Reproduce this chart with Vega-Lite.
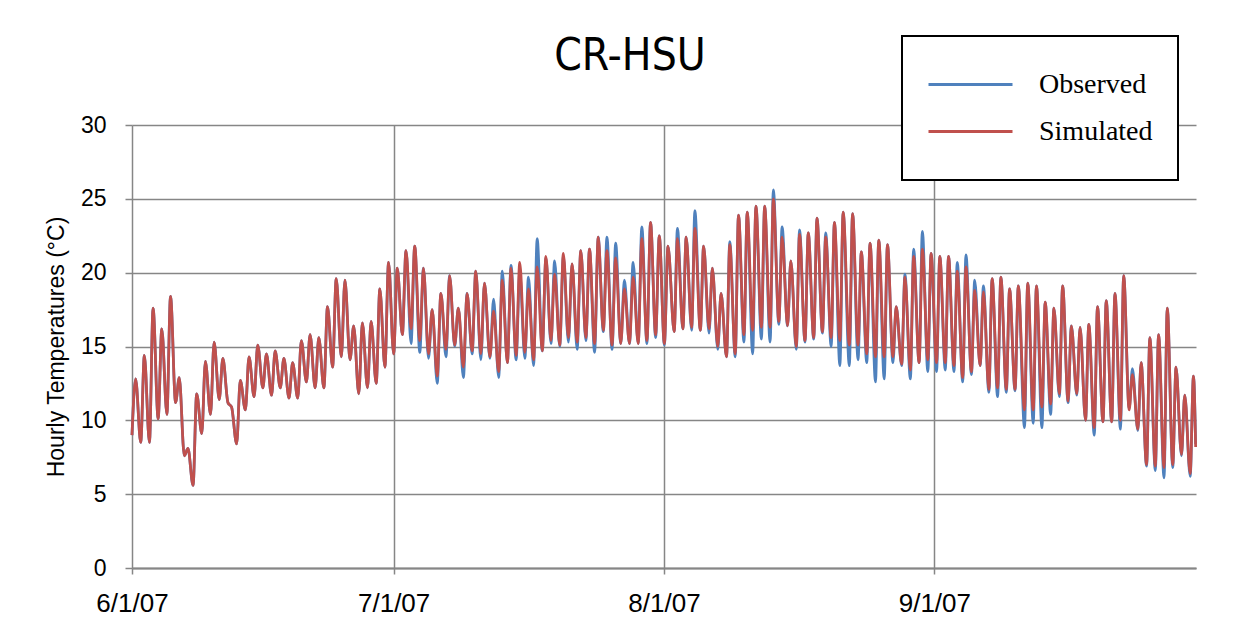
{
  "$schema": "https://vega.github.io/schema/vega-lite/v6.json",
  "width": 1064,
  "height": 443,
  "autosize": {"type": "none"},
  "padding": {"left": 132, "top": 125, "right": 57, "bottom": 66},
  "background": "white",
  "title": {"text": "CR-HSU", "font": "DejaVu Sans Condensed, Liberation Sans", "fontSize": 44, "fontWeight": "normal", "color": "#000000", "anchor": "middle", "dx": -34, "dy": 54, "offset": 10},
  "data": {"values": [
    {"t":"2007-06-01T00:00","Observed":9.0,"Simulated":9.0},{"t":"2007-06-01T10:00","Observed":12.8,"Simulated":12.8},
    {"t":"2007-06-02T00:00","Observed":8.5,"Simulated":8.5},{"t":"2007-06-02T10:00","Observed":14.4,"Simulated":14.4},
    {"t":"2007-06-03T00:00","Observed":8.5,"Simulated":8.5},{"t":"2007-06-03T10:00","Observed":17.6,"Simulated":17.6},
    {"t":"2007-06-04T00:00","Observed":10.1,"Simulated":10.1},{"t":"2007-06-04T10:00","Observed":16.2,"Simulated":16.2},
    {"t":"2007-06-05T00:00","Observed":10.4,"Simulated":10.4},{"t":"2007-06-05T10:00","Observed":18.4,"Simulated":18.4},
    {"t":"2007-06-06T00:00","Observed":11.2,"Simulated":11.2},{"t":"2007-06-06T10:00","Observed":12.9,"Simulated":12.9},
    {"t":"2007-06-07T00:00","Observed":7.6,"Simulated":7.6},{"t":"2007-06-07T10:00","Observed":8.1,"Simulated":8.1},
    {"t":"2007-06-08T00:00","Observed":5.6,"Simulated":5.6},{"t":"2007-06-08T10:00","Observed":11.8,"Simulated":11.8},
    {"t":"2007-06-09T00:00","Observed":9.1,"Simulated":9.1},{"t":"2007-06-09T10:00","Observed":14.0,"Simulated":14.0},
    {"t":"2007-06-10T00:00","Observed":10.4,"Simulated":10.4},{"t":"2007-06-10T10:00","Observed":15.3,"Simulated":15.3},
    {"t":"2007-06-11T00:00","Observed":11.4,"Simulated":11.4},{"t":"2007-06-11T10:00","Observed":14.2,"Simulated":14.2},
    {"t":"2007-06-12T00:00","Observed":11.2,"Simulated":11.2},{"t":"2007-06-12T10:00","Observed":10.9,"Simulated":10.9},
    {"t":"2007-06-13T00:00","Observed":8.4,"Simulated":8.4},{"t":"2007-06-13T10:00","Observed":12.7,"Simulated":12.7},
    {"t":"2007-06-14T00:00","Observed":10.7,"Simulated":10.7},{"t":"2007-06-14T10:00","Observed":14.3,"Simulated":14.3},
    {"t":"2007-06-15T00:00","Observed":11.6,"Simulated":11.6},{"t":"2007-06-15T10:00","Observed":15.1,"Simulated":15.1},
    {"t":"2007-06-16T00:00","Observed":12.2,"Simulated":12.2},{"t":"2007-06-16T10:00","Observed":14.5,"Simulated":14.5},
    {"t":"2007-06-17T00:00","Observed":11.7,"Simulated":11.7},{"t":"2007-06-17T10:00","Observed":14.7,"Simulated":14.7},
    {"t":"2007-06-18T00:00","Observed":12.2,"Simulated":12.2},{"t":"2007-06-18T10:00","Observed":14.2,"Simulated":14.2},
    {"t":"2007-06-19T00:00","Observed":11.5,"Simulated":11.5},{"t":"2007-06-19T10:00","Observed":13.9,"Simulated":13.9},
    {"t":"2007-06-20T00:00","Observed":11.5,"Simulated":11.5},{"t":"2007-06-20T10:00","Observed":15.4,"Simulated":15.4},
    {"t":"2007-06-21T00:00","Observed":12.6,"Simulated":12.6},{"t":"2007-06-21T10:00","Observed":15.8,"Simulated":15.8},
    {"t":"2007-06-22T00:00","Observed":12.2,"Simulated":12.2},{"t":"2007-06-22T10:00","Observed":15.6,"Simulated":15.6},
    {"t":"2007-06-23T00:00","Observed":12.2,"Simulated":12.2},{"t":"2007-06-23T10:00","Observed":17.7,"Simulated":17.7},
    {"t":"2007-06-24T00:00","Observed":13.6,"Simulated":13.6},{"t":"2007-06-24T10:00","Observed":19.6,"Simulated":19.6},
    {"t":"2007-06-25T00:00","Observed":14.3,"Simulated":14.3},{"t":"2007-06-25T10:00","Observed":19.5,"Simulated":19.5},
    {"t":"2007-06-26T00:00","Observed":14.1,"Simulated":14.1},{"t":"2007-06-26T10:00","Observed":16.4,"Simulated":16.4},
    {"t":"2007-06-27T00:00","Observed":11.8,"Simulated":11.8},{"t":"2007-06-27T10:00","Observed":16.6,"Simulated":16.6},
    {"t":"2007-06-28T00:00","Observed":12.2,"Simulated":12.2},{"t":"2007-06-28T10:00","Observed":16.7,"Simulated":16.7},
    {"t":"2007-06-29T00:00","Observed":12.5,"Simulated":12.5},{"t":"2007-06-29T10:00","Observed":18.9,"Simulated":18.9},
    {"t":"2007-06-30T00:00","Observed":13.6,"Simulated":13.6},{"t":"2007-06-30T10:00","Observed":20.7,"Simulated":20.7},
    {"t":"2007-07-01T00:00","Observed":14.5,"Simulated":14.5},{"t":"2007-07-01T10:00","Observed":20.3,"Simulated":20.3},
    {"t":"2007-07-02T00:00","Observed":15.8,"Simulated":15.8},{"t":"2007-07-02T10:00","Observed":21.5,"Simulated":21.5},
    {"t":"2007-07-03T00:00","Observed":15.2,"Simulated":16.2},{"t":"2007-07-03T10:00","Observed":21.8,"Simulated":21.8},
    {"t":"2007-07-04T00:00","Observed":14.6,"Simulated":15.4},{"t":"2007-07-04T10:00","Observed":20.3,"Simulated":20.3},
    {"t":"2007-07-05T00:00","Observed":14.2,"Simulated":14.5},{"t":"2007-07-05T10:00","Observed":17.5,"Simulated":17.5},
    {"t":"2007-07-06T00:00","Observed":12.5,"Simulated":13.0},{"t":"2007-07-06T10:00","Observed":18.6,"Simulated":18.6},
    {"t":"2007-07-07T00:00","Observed":14.3,"Simulated":14.8},{"t":"2007-07-07T10:00","Observed":19.8,"Simulated":19.8},
    {"t":"2007-07-08T00:00","Observed":15.0,"Simulated":15.1},{"t":"2007-07-08T10:00","Observed":17.6,"Simulated":17.6},
    {"t":"2007-07-09T00:00","Observed":12.9,"Simulated":13.6},{"t":"2007-07-09T10:00","Observed":18.6,"Simulated":18.6},
    {"t":"2007-07-10T00:00","Observed":14.5,"Simulated":14.7},{"t":"2007-07-10T10:00","Observed":20.1,"Simulated":20.1},
    {"t":"2007-07-11T00:00","Observed":14.1,"Simulated":14.5},{"t":"2007-07-11T10:00","Observed":19.3,"Simulated":19.3},
    {"t":"2007-07-12T01:00","Observed":14.2,"Simulated":14.3},{"t":"2007-07-12T11:00","Observed":18.2,"Simulated":17.4},
    {"t":"2007-07-13T01:00","Observed":12.9,"Simulated":13.3},{"t":"2007-07-13T11:00","Observed":20.1,"Simulated":19.5},
    {"t":"2007-07-14T01:00","Observed":13.9,"Simulated":13.9},{"t":"2007-07-14T11:00","Observed":20.5,"Simulated":20.3},
    {"t":"2007-07-15T01:00","Observed":14.1,"Simulated":14.4},{"t":"2007-07-15T11:00","Observed":20.0,"Simulated":20.7},
    {"t":"2007-07-16T01:00","Observed":14.2,"Simulated":14.6},{"t":"2007-07-16T11:00","Observed":19.7,"Simulated":18.9},
    {"t":"2007-07-17T01:00","Observed":13.7,"Simulated":14.1},{"t":"2007-07-17T11:00","Observed":22.3,"Simulated":20.4},
    {"t":"2007-07-18T01:00","Observed":14.7,"Simulated":14.7},{"t":"2007-07-18T11:00","Observed":21.0,"Simulated":21.1},
    {"t":"2007-07-19T01:00","Observed":15.2,"Simulated":15.4},{"t":"2007-07-19T11:00","Observed":20.8,"Simulated":19.9},
    {"t":"2007-07-20T01:00","Observed":15.0,"Simulated":15.1},{"t":"2007-07-20T11:00","Observed":21.1,"Simulated":21.3},
    {"t":"2007-07-21T01:00","Observed":15.3,"Simulated":15.6},{"t":"2007-07-21T11:00","Observed":20.6,"Simulated":20.6},
    {"t":"2007-07-22T01:00","Observed":14.8,"Simulated":15.3},{"t":"2007-07-22T11:00","Observed":21.5,"Simulated":21.5},
    {"t":"2007-07-23T01:00","Observed":15.4,"Simulated":15.6},{"t":"2007-07-23T11:00","Observed":21.6,"Simulated":21.6},
    {"t":"2007-07-24T01:00","Observed":14.6,"Simulated":15.2},{"t":"2007-07-24T11:00","Observed":22.4,"Simulated":22.4},
    {"t":"2007-07-25T01:00","Observed":16.0,"Simulated":16.1},{"t":"2007-07-25T11:00","Observed":22.4,"Simulated":21.5},
    {"t":"2007-07-26T01:00","Observed":14.8,"Simulated":15.1},{"t":"2007-07-26T11:00","Observed":22.0,"Simulated":21.0},
    {"t":"2007-07-27T01:00","Observed":15.2,"Simulated":15.2},{"t":"2007-07-27T11:00","Observed":19.5,"Simulated":18.9},
    {"t":"2007-07-28T01:00","Observed":15.2,"Simulated":15.2},{"t":"2007-07-28T11:00","Observed":20.7,"Simulated":19.7},
    {"t":"2007-07-29T01:00","Observed":15.2,"Simulated":15.2},{"t":"2007-07-29T11:00","Observed":23.1,"Simulated":22.3},
    {"t":"2007-07-30T01:00","Observed":15.2,"Simulated":15.4},{"t":"2007-07-30T11:00","Observed":23.4,"Simulated":23.4},
    {"t":"2007-07-31T01:00","Observed":15.6,"Simulated":15.8},{"t":"2007-07-31T11:00","Observed":22.5,"Simulated":22.5},
    {"t":"2007-08-01T01:00","Observed":15.1,"Simulated":15.2},{"t":"2007-08-01T11:00","Observed":21.8,"Simulated":21.8},
    {"t":"2007-08-02T04:00","Observed":16.0,"Simulated":16.0},{"t":"2007-08-02T13:00","Observed":23.0,"Simulated":22.3},
    {"t":"2007-08-03T04:00","Observed":16.2,"Simulated":16.2},{"t":"2007-08-03T13:00","Observed":22.4,"Simulated":22.4},
    {"t":"2007-08-04T04:00","Observed":16.1,"Simulated":16.3},{"t":"2007-08-04T13:00","Observed":24.2,"Simulated":23.0},
    {"t":"2007-08-05T04:00","Observed":16.1,"Simulated":16.1},{"t":"2007-08-05T13:00","Observed":21.8,"Simulated":21.8},
    {"t":"2007-08-06T04:00","Observed":15.9,"Simulated":16.2},{"t":"2007-08-06T13:00","Observed":20.3,"Simulated":20.3},
    {"t":"2007-08-07T04:00","Observed":14.8,"Simulated":15.0},{"t":"2007-08-07T13:00","Observed":18.6,"Simulated":18.6},
    {"t":"2007-08-08T04:00","Observed":14.3,"Simulated":14.3},{"t":"2007-08-08T13:00","Observed":22.1,"Simulated":21.9},
    {"t":"2007-08-09T04:00","Observed":14.3,"Simulated":14.5},{"t":"2007-08-09T13:00","Observed":23.9,"Simulated":23.9},
    {"t":"2007-08-10T04:00","Observed":15.3,"Simulated":15.8},{"t":"2007-08-10T13:00","Observed":24.1,"Simulated":24.1},
    {"t":"2007-08-11T04:00","Observed":14.5,"Simulated":16.1},{"t":"2007-08-11T13:00","Observed":24.5,"Simulated":24.5},
    {"t":"2007-08-12T04:00","Observed":15.5,"Simulated":16.3},{"t":"2007-08-12T13:00","Observed":24.5,"Simulated":24.5},
    {"t":"2007-08-13T04:00","Observed":15.3,"Simulated":16.3},{"t":"2007-08-13T13:00","Observed":25.6,"Simulated":25.0},
    {"t":"2007-08-14T04:00","Observed":16.5,"Simulated":16.7},{"t":"2007-08-14T13:00","Observed":23.1,"Simulated":22.4},
    {"t":"2007-08-15T04:00","Observed":16.4,"Simulated":16.4},{"t":"2007-08-15T13:00","Observed":20.8,"Simulated":20.8},
    {"t":"2007-08-16T04:00","Observed":14.8,"Simulated":15.0},{"t":"2007-08-16T13:00","Observed":22.9,"Simulated":22.6},
    {"t":"2007-08-17T04:00","Observed":15.3,"Simulated":15.4},{"t":"2007-08-17T13:00","Observed":22.7,"Simulated":22.7},
    {"t":"2007-08-18T04:00","Observed":15.5,"Simulated":15.6},{"t":"2007-08-18T13:00","Observed":23.7,"Simulated":23.7},
    {"t":"2007-08-19T04:00","Observed":15.9,"Simulated":16.0},{"t":"2007-08-19T13:00","Observed":22.7,"Simulated":22.4},
    {"t":"2007-08-20T04:00","Observed":15.0,"Simulated":15.6},{"t":"2007-08-20T13:00","Observed":23.4,"Simulated":23.4},
    {"t":"2007-08-21T04:00","Observed":13.7,"Simulated":15.4},{"t":"2007-08-21T13:00","Observed":24.1,"Simulated":24.1},
    {"t":"2007-08-22T06:00","Observed":13.7,"Simulated":15.1},{"t":"2007-08-22T15:00","Observed":24.0,"Simulated":24.0},
    {"t":"2007-08-23T06:00","Observed":14.1,"Simulated":15.1},{"t":"2007-08-23T15:00","Observed":21.4,"Simulated":21.4},
    {"t":"2007-08-24T06:00","Observed":13.9,"Simulated":14.5},{"t":"2007-08-24T15:00","Observed":22.0,"Simulated":22.0},
    {"t":"2007-08-25T06:00","Observed":12.6,"Simulated":14.3},{"t":"2007-08-25T15:00","Observed":22.2,"Simulated":22.2},
    {"t":"2007-08-26T06:00","Observed":12.8,"Simulated":14.3},{"t":"2007-08-26T15:00","Observed":21.9,"Simulated":21.9},
    {"t":"2007-08-27T06:00","Observed":13.9,"Simulated":14.3},{"t":"2007-08-27T15:00","Observed":17.7,"Simulated":17.7},
    {"t":"2007-08-28T06:00","Observed":13.7,"Simulated":13.8},{"t":"2007-08-28T15:00","Observed":19.9,"Simulated":19.7},
    {"t":"2007-08-29T06:00","Observed":12.8,"Simulated":13.4},{"t":"2007-08-29T15:00","Observed":21.6,"Simulated":21.1},
    {"t":"2007-08-30T06:00","Observed":13.9,"Simulated":13.9},{"t":"2007-08-30T15:00","Observed":22.8,"Simulated":21.6},
    {"t":"2007-08-31T06:00","Observed":13.3,"Simulated":14.1},{"t":"2007-08-31T15:00","Observed":21.3,"Simulated":21.3},
    {"t":"2007-09-01T06:00","Observed":13.3,"Simulated":13.9},{"t":"2007-09-01T15:00","Observed":21.1,"Simulated":21.1},
    {"t":"2007-09-02T06:00","Observed":13.4,"Simulated":13.9},{"t":"2007-09-02T15:00","Observed":21.1,"Simulated":21.1},
    {"t":"2007-09-03T06:00","Observed":13.3,"Simulated":13.7},{"t":"2007-09-03T15:00","Observed":20.7,"Simulated":20.1},
    {"t":"2007-09-04T06:00","Observed":12.6,"Simulated":12.9},{"t":"2007-09-04T15:00","Observed":21.2,"Simulated":20.4},
    {"t":"2007-09-05T06:00","Observed":13.1,"Simulated":13.3},{"t":"2007-09-05T15:00","Observed":19.5,"Simulated":18.8},
    {"t":"2007-09-06T06:00","Observed":13.7,"Simulated":13.7},{"t":"2007-09-06T15:00","Observed":19.1,"Simulated":18.7},
    {"t":"2007-09-07T06:00","Observed":11.9,"Simulated":12.1},{"t":"2007-09-07T15:00","Observed":19.6,"Simulated":19.6},
    {"t":"2007-09-08T06:00","Observed":11.6,"Simulated":12.2},{"t":"2007-09-08T15:00","Observed":19.7,"Simulated":19.7},
    {"t":"2007-09-09T06:00","Observed":11.9,"Simulated":12.1},{"t":"2007-09-09T15:00","Observed":18.9,"Simulated":18.9},
    {"t":"2007-09-10T06:00","Observed":12.0,"Simulated":12.1},{"t":"2007-09-10T15:00","Observed":19.1,"Simulated":19.1},
    {"t":"2007-09-11T08:00","Observed":9.5,"Simulated":10.7},{"t":"2007-09-11T17:00","Observed":19.3,"Simulated":19.3},
    {"t":"2007-09-12T08:00","Observed":9.8,"Simulated":10.7},{"t":"2007-09-12T17:00","Observed":19.1,"Simulated":19.1},
    {"t":"2007-09-13T08:00","Observed":9.5,"Simulated":10.9},{"t":"2007-09-13T17:00","Observed":18.0,"Simulated":18.0},
    {"t":"2007-09-14T08:00","Observed":10.4,"Simulated":11.1},{"t":"2007-09-14T17:00","Observed":17.6,"Simulated":17.6},
    {"t":"2007-09-15T08:00","Observed":11.6,"Simulated":11.8},{"t":"2007-09-15T17:00","Observed":19.1,"Simulated":19.1},
    {"t":"2007-09-16T08:00","Observed":11.2,"Simulated":11.3},{"t":"2007-09-16T17:00","Observed":16.4,"Simulated":16.4},
    {"t":"2007-09-17T08:00","Observed":11.7,"Simulated":11.8},{"t":"2007-09-17T17:00","Observed":16.3,"Simulated":16.3},
    {"t":"2007-09-18T08:00","Observed":10.0,"Simulated":10.0},{"t":"2007-09-18T17:00","Observed":16.5,"Simulated":16.5},
    {"t":"2007-09-19T08:00","Observed":9.0,"Simulated":9.5},{"t":"2007-09-19T17:00","Observed":17.7,"Simulated":17.7},
    {"t":"2007-09-20T08:00","Observed":9.9,"Simulated":9.9},{"t":"2007-09-20T17:00","Observed":18.1,"Simulated":18.1},
    {"t":"2007-09-21T08:00","Observed":9.9,"Simulated":9.9},{"t":"2007-09-21T17:00","Observed":18.6,"Simulated":18.6},
    {"t":"2007-09-22T08:00","Observed":9.4,"Simulated":10.0},{"t":"2007-09-22T17:00","Observed":19.8,"Simulated":19.8},
    {"t":"2007-09-23T08:00","Observed":10.8,"Simulated":10.7},{"t":"2007-09-23T17:00","Observed":13.5,"Simulated":13.1},
    {"t":"2007-09-24T08:00","Observed":9.3,"Simulated":9.4},{"t":"2007-09-24T17:00","Observed":13.9,"Simulated":13.9},
    {"t":"2007-09-25T08:00","Observed":6.9,"Simulated":7.0},{"t":"2007-09-25T17:00","Observed":15.6,"Simulated":15.6},
    {"t":"2007-09-26T08:00","Observed":6.6,"Simulated":6.9},{"t":"2007-09-26T17:00","Observed":15.8,"Simulated":15.8},
    {"t":"2007-09-27T08:00","Observed":6.1,"Simulated":6.8},{"t":"2007-09-27T17:00","Observed":17.6,"Simulated":17.6},
    {"t":"2007-09-28T08:00","Observed":6.8,"Simulated":7.0},{"t":"2007-09-28T17:00","Observed":13.6,"Simulated":13.6},
    {"t":"2007-09-29T08:00","Observed":7.6,"Simulated":7.7},{"t":"2007-09-29T17:00","Observed":11.7,"Simulated":11.7},
    {"t":"2007-09-30T08:00","Observed":6.2,"Simulated":6.4},{"t":"2007-09-30T17:00","Observed":13.0,"Simulated":13.0},
    {"t":"2007-09-30T23:00","Observed":8.4,"Simulated":8.2}
  ]},
  "transform": [{"fold": ["Observed", "Simulated"], "as": ["series", "temp"]}],
  "mark": {"type": "line", "strokeWidth": 2.75, "interpolate": "monotone"},
  "encoding": {
    "x": {
      "field": "t", "type": "temporal",
      "scale": {"domain": [{"year": 2007, "month": 6, "date": 1}, {"year": 2007, "month": 10, "date": 1}]},
      "axis": {
        "title": null,
        "values": [{"year": 2007, "month": 6, "date": 1}, {"year": 2007, "month": 7, "date": 1}, {"year": 2007, "month": 8, "date": 1}, {"year": 2007, "month": 9, "date": 1}],
        "format": "%-m/%-d/%y",
        "grid": true, "gridColor": "#868686", "gridWidth": 1.5,
        "tickColor": "#868686", "tickSize": 6, "tickWidth": 1.5,
        "domainColor": "#868686", "domainWidth": 2,
        "labelFont": "Liberation Sans", "labelFontSize": 26, "labelColor": "#000000",
        "labelPadding": 16, "labelAngle": 0, "labelFlush": false, "labelOverlap": false
      }
    },
    "y": {
      "field": "temp", "type": "quantitative",
      "scale": {"domain": [0, 30], "nice": false},
      "axis": {
        "title": "Hourly Temperatures (°C)",
        "values": [0, 5, 10, 15, 20, 25, 30],
        "grid": true, "gridColor": "#868686", "gridWidth": 1.5,
        "domain": false,
        "tickColor": "#868686", "tickSize": 7, "tickWidth": 1.5,
        "labelFont": "Liberation Sans", "labelFontSize": 23, "labelColor": "#000000", "labelPadding": 19,
        "titleFont": "Liberation Sans", "titleFontSize": 23, "titleFontWeight": "normal", "titleColor": "#000000", "titlePadding": 12
      }
    },
    "color": {
      "field": "series", "type": "nominal",
      "scale": {"domain": ["Observed", "Simulated"], "range": ["#4F81BD", "#C0504D"]},
      "legend": {
        "title": null, "orient": "none", "legendX": 770, "legendY": -89, "direction": "vertical",
        "padding": 25, "strokeColor": "#000000", "fillColor": "#ffffff",
        "clipHeight": 47, "symbolType": "stroke", "symbolSize": 7056, "symbolStrokeWidth": 3,
        "labelFont": "Liberation Serif", "labelFontSize": 28, "labelColor": "#000000", "labelOffset": 25,
        "rowPadding": 0, "labelLimit": 300,
        "encode": {"legend": {"update": {"strokeWidth": {"value": 2}}}}
      }
    }
  },
  "config": {"view": {"stroke": null}}
}
